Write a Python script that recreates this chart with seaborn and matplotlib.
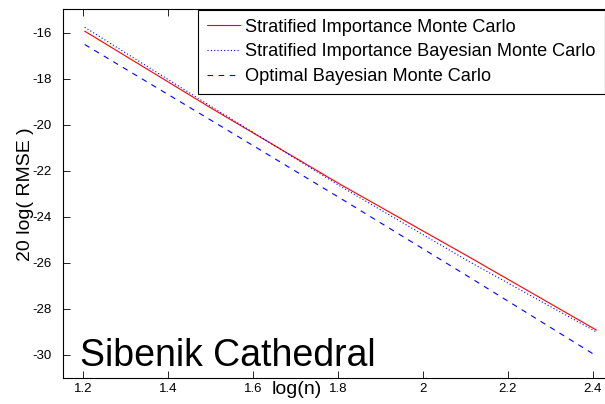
import numpy as np
import pandas as pd
import matplotlib
matplotlib.use('Agg')
import matplotlib.pyplot as plt
import seaborn as sns

# log10 of sample counts n = 16 .. 256
log_n = [1.204, 1.505, 1.806, 2.107, 2.408]
simc = [-15.94, -19.32, -22.60, -25.73, -28.92]
sibmc = [-15.77, -19.25, -22.68, -25.93, -29.00]
obmc = [-16.52, -19.85, -23.20, -26.60, -30.04]
labels = ['Stratified Importance Monte Carlo',
          'Stratified Importance Bayesian Monte Carlo',
          'Optimal Bayesian Monte Carlo']

sns.set_style('ticks')
plt.rcParams['font.family'] = ['Liberation Sans', 'DejaVu Sans']
plt.rcParams['axes.unicode_minus'] = False
for k in ['text.color', 'axes.labelcolor', 'xtick.color', 'ytick.color', 'axes.edgecolor']:
    plt.rcParams[k] = 'black'

fig = plt.figure(figsize=(6.05, 4.04), dpi=100)
ax = fig.add_axes([63/605, 26/404, (618.5-63)/605, (378-9.5)/404])

styles = [('red', '-'), ('blue', (0, (1, 2))), ('blue', (0, (5, 5)))]
for vals, lab, (c, ls) in zip([simc, sibmc, obmc], labels, styles):
    d = pd.DataFrame({'x': log_n, 'y': vals})
    sns.lineplot(data=d, x='x', y='y', ax=ax, color=c, linestyle=ls,
                 linewidth=0.8, label=lab)

ax.set_xlim(1.153, 2.46)
ax.set_ylim(-31, -15)
ax.set_xticks([1.2, 1.4, 1.6, 1.8, 2, 2.2, 2.4])
ax.set_xticklabels(['1.2', '1.4', '1.6', '1.8', '2', '2.2', '2.4'])
ax.set_yticks(range(-30, -15, 2))
ax.tick_params(direction='in', length=5, width=0.6, labelsize=9.5,
               top=True, right=True)
ax.tick_params(axis='y', pad=8)
for s in ax.spines.values():
    s.set_linewidth(0.8)

ax.set_xlabel('log(n)', fontsize=14)
ax.set_ylabel('20 log( RMSE )', fontsize=14)
ax.xaxis.set_label_coords((297-63)/(618.5-63), -3/368.5)
ax.yaxis.set_label_coords(-(63-34)/555.5, 0.5)

ax.text(80, 404-366, 'Sibenik Cathedral', fontsize=27, transform=None,
        va='baseline', ha='left')

leg = ax.legend(loc='upper left', bbox_to_anchor=(198/605, 1-9.5/404),
                bbox_transform=fig.transFigure, fontsize=13.1,
                handlelength=1.8, handletextpad=0.3, labelspacing=0.42,
                borderaxespad=0, borderpad=0.5, fancybox=False)
leg.get_frame().set_edgecolor('black')
leg.get_frame().set_linewidth(0.8)
leg.get_frame().set_alpha(1)

fig.savefig('out.png', dpi=100)
